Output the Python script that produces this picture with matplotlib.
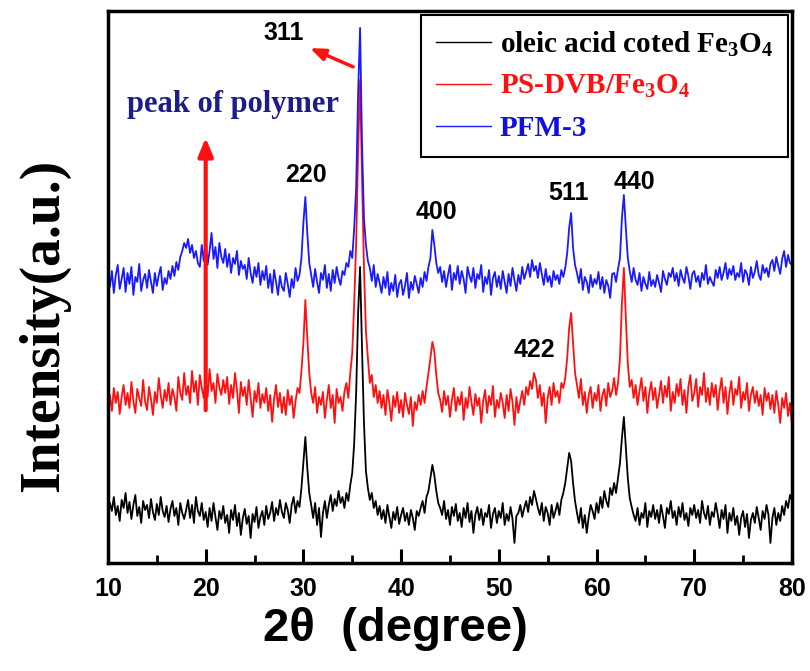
#coding=utf-8
"""
XRD patterns of oleic acid coated Fe3O4, PS-DVB/Fe3O4 and PFM-3
(values read off the picture, plotted stacked, arbitrary units)
"""
import numpy as np
import matplotlib.pyplot as plt

# 2theta grid, 10..80 degree, step 0.2
two_theta = np.round(np.arange(10.0, 80.0001, 0.2), 1)

# PFM-3 (blue, top trace)
pfm3 = [
    300, 276, 292, 270, 288, 298, 274, 284, 295, 271,
    290, 279, 296, 268, 286, 281, 299, 272, 283, 289,
    275, 293, 281, 270, 290, 277, 288, 296, 273, 285,
    279, 292, 284, 297, 287, 301, 293, 306, 312, 320,
    315, 324, 310, 318, 305, 312, 300, 296, 318, 302,
    322, 298, 312, 330, 304, 316, 295, 320, 306, 300,
    314, 296, 309, 290, 305, 299, 312, 288, 302, 294,
    298, 284, 305, 290, 280, 296, 286, 300, 278, 292,
    283, 297, 275, 289, 270, 293, 281, 268, 287, 276,
    272, 290, 279, 266, 284, 275, 295, 282, 288, 305,
    340, 366, 330, 300, 288, 276, 294, 281, 270, 290,
    283, 298, 275, 289, 272, 293, 280, 296, 285, 278,
    292, 288, 300, 296, 312, 305, 335, 375, 470, 535,
    420, 345, 318, 302, 295, 282, 298, 276, 289, 280,
    270, 286, 275, 291, 268, 280, 272, 288, 266, 279,
    283, 268, 277, 290, 265, 281, 273, 287, 279, 270,
    285, 276, 291, 282, 296, 305, 333, 318, 300, 290,
    296, 281, 292, 276, 288, 298, 273, 290, 283, 297,
    279, 292, 284, 270, 296, 287, 281, 295, 275, 289,
    284, 298, 271, 286, 279, 293, 268, 285, 291, 276,
    287, 274, 292, 281, 270, 289, 277, 295, 283, 272,
    288, 279, 296, 284, 291, 299, 286, 303, 292, 297,
    285, 300, 289, 278, 294, 281, 287, 276, 292, 283,
    288, 279, 293, 286, 295, 310, 335, 350, 315, 298,
    290, 280, 294, 273, 286, 281, 270, 288, 276, 284,
    279, 291, 274, 286, 270, 283, 277, 265, 289, 290,
    281, 294, 305, 345, 368, 335, 305, 292, 281, 295,
    283, 278, 290, 272, 286, 279, 274, 291, 277, 283,
    276, 288, 280, 271, 292, 284, 278, 290, 286, 295,
    282, 290, 277, 293, 285, 280, 296, 287, 274, 289,
    292, 281, 287, 276, 290, 283, 298, 279, 286, 281,
    277, 293, 285, 296, 283, 290, 300, 284, 294, 288,
    297, 283, 290, 286, 300, 281, 293, 289, 278, 296,
    285, 291, 302, 288, 283, 298, 290, 295, 286, 299,
    303, 292, 306, 297, 289, 304, 312, 296, 308, 300,
    298]

# PS-DVB/Fe3O4 (red, middle trace)
psdvb = [
    140, 168, 152, 175, 160, 171, 149, 166, 178, 158,
    170, 155, 181, 162, 150, 174, 165, 157, 183, 161,
    153, 176, 164, 148, 171, 160, 185, 168, 155, 173,
    162, 180, 158, 174, 166, 152, 186, 170, 163, 190,
    168, 177, 160, 192, 171, 182, 158, 188, 175, 165,
    185, 166, 194, 172, 180, 160, 189, 176, 168, 183,
    170, 186, 159, 178, 165, 190, 173, 150, 181, 167,
    176, 158, 183, 165, 146, 172, 161, 180, 155, 169,
    160, 175, 152, 168, 141, 164, 178, 156, 170, 150,
    166, 148, 173, 158, 167, 145, 162, 175, 170, 192,
    220, 263, 225, 190, 170, 160, 176, 150, 166, 158,
    171, 145, 163, 178, 155, 168, 140, 174, 160, 166,
    152, 171, 180, 165, 190, 210, 260, 320, 410, 483,
    385, 295, 232, 205, 180, 188, 166, 178, 160, 172,
    155, 168, 148, 173, 160, 142, 167, 156, 171, 150,
    163, 146, 170, 158, 149, 166, 137, 161, 153, 168,
    158, 172, 160, 176, 190, 205, 221, 212, 188, 170,
    163, 151, 172, 158, 167, 146, 163, 175, 152, 166,
    158, 171, 143, 165, 155, 176, 161, 148, 169, 157,
    165, 140, 162, 173, 150, 167, 158, 177, 146, 163,
    155, 170, 160, 145, 168, 152, 174, 161, 138, 166,
    150, 162, 172, 158, 176, 168, 182, 174, 190, 183,
    165, 178, 157, 170, 140, 165, 176, 158, 180, 166,
    172, 160, 180, 175, 185, 205, 235, 250, 220, 190,
    178, 165, 184, 158, 171, 150, 168, 176, 155, 170,
    162, 178, 152, 168, 174, 157, 180, 166, 172, 185,
    168, 180, 205, 260, 295, 245, 200, 176, 183, 165,
    178, 158, 172, 185, 162, 176, 150, 170, 181, 163,
    175, 155, 168, 182, 160, 177, 166, 186, 152, 171,
    160, 179, 167, 184, 158, 173, 150, 176, 188, 162,
    170, 184, 156, 176, 168, 190, 161, 175, 158, 180,
    166, 178, 153, 172, 185, 160, 176, 149, 170, 182,
    158, 174, 168, 186, 155, 171, 163, 180, 152, 168,
    176, 160, 172, 157, 168, 148, 175, 162, 170, 154,
    168, 150, 172, 158, 140, 165, 155, 170, 147, 160,
    138]

# oleic acid coated Fe3O4 (black, bottom trace)
oleic = [
    45, 60, 52, 66, 48, 57, 42, 63, 55, 70,
    50, 61, 44, 58, 68, 47, 56, 40, 62, 53,
    58, 45, 64, 51, 43, 59, 48, 66, 52, 46,
    57, 41, 54, 62, 47, 55, 38, 60, 50, 44,
    53, 63, 45, 58, 40, 66, 52, 47, 60, 43,
    51, 36, 55, 42, 60, 46, 33, 52, 44, 57,
    40, 48, 30, 53, 43, 58, 37, 50, 28, 45,
    54, 39, 47, 25, 49, 41, 56, 35, 46, 52,
    38, 57, 44, 50, 61, 42, 55, 48, 63, 51,
    45, 60, 53, 40, 58, 66, 50, 62, 56, 75,
    100, 126, 95, 70, 58, 45, 60, 38, 55, 26,
    50, 62, 45, 58, 68, 52, 64, 57, 72, 60,
    66, 55, 70, 62, 78, 90, 120, 170, 250, 296,
    215, 140, 92, 75, 63, 70, 55, 62, 48, 57,
    44, 53, 40, 58, 46, 35, 51, 43, 56, 39,
    48, 55, 42, 50, 38, 53, 45, 33, 52, 47,
    55, 62, 50, 66, 72, 85, 98, 88, 72, 60,
    55, 48, 62, 44, 53, 38, 56, 47, 59, 42,
    50, 36, 55, 45, 60, 41, 52, 30, 48, 56,
    43, 54, 38, 50, 46, 58, 35, 49, 55, 40,
    52, 45, 60, 38, 49, 42, 56, 44, 20, 47,
    50, 58, 46, 55, 62, 51, 66, 58, 72, 64,
    55, 48, 60, 42, 56, 50, 38, 58, 45, 52,
    60, 48, 63, 70, 80, 95, 110, 102, 80, 62,
    50, 40, 55, 35, 48, 30, 46, 58, 52, 44,
    60, 50, 66, 55, 72, 62, 56, 75, 68, 80,
    70, 85, 100, 125, 146, 115, 85, 65, 56, 48,
    42, 55, 38, 50, 45, 60, 36, 52, 46, 58,
    44, 53, 40, 58, 47, 35, 55, 49, 62, 45,
    52, 38, 56, 46, 60, 43, 50, 37, 55, 48,
    58, 45, 53, 40, 62, 50, 44, 57, 38, 51,
    46, 60, 49, 35, 53, 44, 58, 30, 50, 42,
    55, 38, 47, 28, 45, 52, 36, 49, 25, 43,
    50, 40, 56, 45, 33, 52, 44, 58, 48, 20,
    45, 55, 38, 50, 42, 57, 48, 62, 55, 68,
    63]

# peak labels: (text, 2theta, intensity)
peak_labels = ['311', '220', '400', '511', '440', '422']
peak_x = [28.0, 30.3, 43.6, 57.1, 63.9, 53.6]
peak_y = [530, 388, 351, 370, 381, 213]

plt.rcParams['mathtext.fontset'] = 'custom'
plt.rcParams['mathtext.rm'] = 'Liberation Serif:bold'
plt.rcParams['mathtext.it'] = 'Liberation Serif:bold'
plt.rcParams['mathtext.bf'] = 'Liberation Serif:bold'

fig = plt.figure(figsize=(8.1, 6.71), dpi=100)
ax = fig.add_axes([0.1333, 0.161, 0.8444, 0.8227])

l1, = ax.plot(two_theta, oleic, color='black', lw=1.3)
l2, = ax.plot(two_theta, psdvb, color='#ff1010', lw=1.3)
l3, = ax.plot(two_theta, pfm3, color='#1a1aff', lw=1.3)

ax.set_xlim(10, 80)
ax.set_ylim(0, 552)

# ticks: only bottom, inward
ax.set_xticks(range(10, 81, 10))
ax.set_xticks(range(15, 80, 10), minor=True)
ax.tick_params(axis='x', which='major', direction='in', length=10, width=2.2, pad=10)
ax.tick_params(axis='x', which='minor', direction='in', length=6, width=2.0)
ax.set_yticks([])
for lab in ax.get_xticklabels():
    lab.set_fontfamily('Liberation Sans')
    lab.set_fontweight('bold')
    lab.set_fontsize(18)
for s in ax.spines.values():
    s.set_linewidth(2.5)

ax.set_xlabel('2θ  (degree)', fontsize=34, fontweight='bold',
              family='Liberation Sans')
ax.xaxis.set_label_coords(0.42, -0.08)
ax.set_ylabel('Intensity(a.u.)', fontsize=40, fontweight='bold',
              family='Liberation Serif')
ax.yaxis.set_label_coords(-0.055, 0.43)

# peak indices
for t, px, py in zip(peak_labels, peak_x, peak_y):
    ax.text(px, py, t, ha='center', va='center', fontsize=18,
            fontweight='bold', family='Liberation Sans')

ax.text(22.8, 458, 'peak of polymer', ha='center', va='center', fontsize=22,
        fontweight='bold', family='Liberation Serif', color='#1c1c8c')

# red arrows
ax.annotate('', xy=(20.0, 428), xytext=(20.0, 150),
            arrowprops=dict(arrowstyle='-|>,head_width=0.45,head_length=1.1',
                            color='#ff1010', lw=3))
ax.annotate('', xy=(30.4, 516), xytext=(35.35, 495),
            arrowprops=dict(arrowstyle='-|>,head_width=0.35,head_length=0.9',
                            color='#ff1010', lw=2.5))

leg = ax.legend([l1, l2, l3],
                ['oleic acid coted Fe$_3$O$_4$', 'PS-DVB/Fe$_3$O$_4$', 'PFM-3'],
                loc='upper left', bbox_to_anchor=(0.458, 0.993), borderaxespad=0,
                fancybox=False, edgecolor='black', framealpha=1,
                prop={'family': 'Liberation Serif', 'weight': 'bold', 'size': 21},
                handlelength=1.9, handletextpad=0.3, labelspacing=0.5,
                borderpad=0.5)
leg.get_frame().set_linewidth(1.5)
for h in leg.get_lines():
    h.set_linewidth(1.0)
for txt, c in zip(leg.get_texts(), ['black', '#ff1010', '#1010e0']):
    txt.set_color(c)

plt.savefig('out.png', dpi=100)
